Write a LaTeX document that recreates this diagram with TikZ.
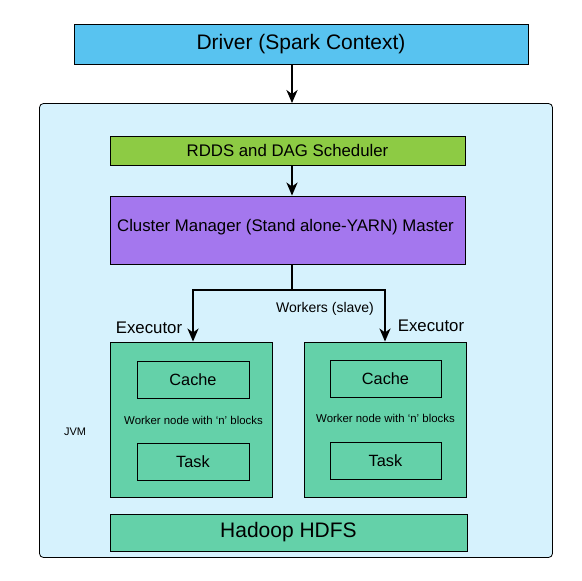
\documentclass[tikz,border=0pt]{standalone}
\usepackage{fontspec}
\setmainfont{Liberation Sans}
\usetikzlibrary{arrows.meta}
\definecolor{drivercol}{HTML}{58C3F0}
\definecolor{jvmcol}{HTML}{D6F2FD}
\definecolor{rddcol}{HTML}{8DCB44}
\definecolor{clustercol}{HTML}{A477EE}
\definecolor{workercol}{HTML}{64D1A9}
\newcommand{\fs}[1]{\fontsize{#1}{#1}\selectfont}
\begin{document}
\begin{tikzpicture}[
        x = 1pt, y = -1pt,
        box/.style = {draw, line width = 0.9pt, rectangle, inner sep = 0pt},
        wbox/.style = {box, fill = workercol},
        flow/.style = {line width = 2.4pt, -{Stealth[length = 13pt, width = 11pt, inset = 4pt]}}
    ]
    \useasboundingbox (0, 0) rectangle (582, 581);
    \node [box, fill = drivercol, minimum width = 454pt, minimum height = 40pt] (driver) at (301, 44) {\fs{21}Driver (Spark Context)};
    \node [draw, line width = 0.8pt, fill = jvmcol, rounded corners = 4pt, minimum width = 513pt, minimum height = 454pt] (jvm) at (296, 330.5) {};
    \node [box, fill = rddcol, minimum width = 355pt, minimum height = 29pt] (rdd) at (287.5, 150.5) {\fs{16.8}RDDS and DAG Scheduler};
    \node [box, fill = clustercol, minimum width = 355pt, minimum height = 68pt] (cluster) at (287.5, 230) {};
    \node (clustertext) at (285.5, 227) {\fs{16.8}Cluster Manager (Stand alone-YARN) Master};
    % executors
    \node [wbox, minimum width = 162pt, minimum height = 155pt] (lworker) at (191, 419.5) {};
    \node [wbox, minimum width = 162pt, minimum height = 155pt] (rworker) at (385, 419.5) {};
    \node [wbox, minimum width = 112pt, minimum height = 37pt] (lcache) at (193, 379.5) {\fs{16.3}Cache};
    \node [wbox, minimum width = 112pt, minimum height = 37pt] (ltask) at (193, 461.5) {\fs{16.3}Task};
    \node [wbox, minimum width = 111pt, minimum height = 37pt] (rcache) at (385.5, 378.5) {\fs{16.3}Cache};
    \node [wbox, minimum width = 111pt, minimum height = 37pt] (rtask) at (385.5, 460.5) {\fs{16.3}Task};
    \node (lnote) at (193.5, 420.5) {\fs{11.4}Worker node with `n' blocks};
    \node (rnote) at (385.5, 418) {\fs{11.4}Worker node with `n' blocks};
    \node [wbox, minimum width = 357pt, minimum height = 37pt] (hdfs) at (288.5, 532.5) {\fs{21}Hadoop HDFS};
    \node (jvmlabel) at (75, 432) {\fs{11}JVM};
    \node (lexec) at (149, 328) {\fs{16.8}Executor};
    \node (rexec) at (431, 326) {\fs{16.8}Executor};
    \node (slaves) at (325, 309) {\fs{14}Workers (slave)};
    \coordinate (split) at (292, 290);
    \draw [flow] 
        (driver.south -| split) -- (jvm.north -| split)
    ;
    \draw [flow] 
        (rdd.south -| split) -- (cluster.north -| split)
    ;
    \draw [line width = 2.4pt] 
        (cluster.south -| split) -- (split)
    ;
    \draw [flow] 
        (split) -| (lcache |- lworker.north)
    ;
    \draw [flow] 
        (split) -| (rworker.north)
    ;
\end{tikzpicture}
\end{document}
